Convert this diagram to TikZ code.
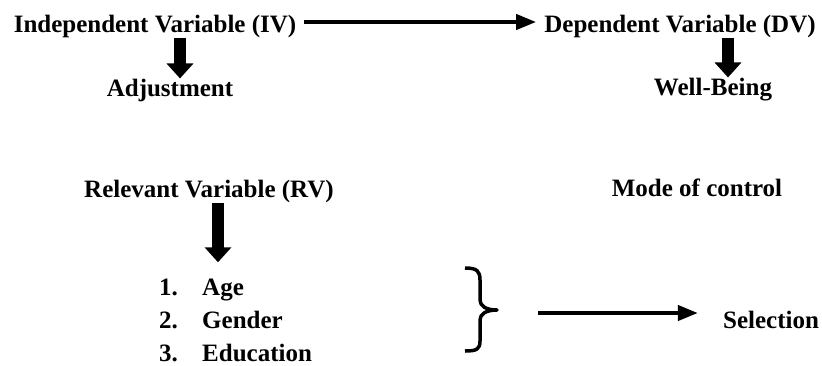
\documentclass[tikz,border=0pt]{standalone}
\usepackage{fontspec}
\setmainfont{Liberation Serif}
\usetikzlibrary{arrows.meta,positioning}
\tikzset{
  var/.style={font=\fontsize{25}{30}\selectfont\bfseries, inner sep=0pt, anchor=base},
  listitem/.style={var, anchor=base west},
  bigdown/.style={-{Triangle[length=15pt,width=26pt]}, line width=12pt},
  link/.style={-{Triangle[length=20pt,width=15pt]}, line width=4pt},
  curly/.style={line width=3.5pt, line join=round},
}

\begin{document}
\begin{tikzpicture}[x=1pt,y=-1pt]
  \useasboundingbox (0,0) rectangle (822,365);
  % variables
  \node[var] (iv) at (155,32) {Independent Variable (IV)};
  \node[var] (dv) at (680,32) {Dependent Variable (DV)};
  \node[var] (adj) at (170,96) {Adjustment};
  \node[var] (wb) at (713,95) {Well-Being};
  \node[var] (rv) at (209,197) {Relevant Variable (RV)};
  \node[var] (mode) at (697,196) {Mode of control};
  \node[listitem] (age) at (159,295) {\makebox[43pt][l]{1.}Age};
  \node[listitem] (gender) at (159,328) {\makebox[43pt][l]{2.}Gender};
  \node[listitem] (edu) at (159,361) {\makebox[43pt][l]{3.}Education};
  \node[var] (sel) at (771,328) {Selection};
  % arrows
  \draw[link, shorten <=8pt, shorten >=8pt] (iv.east |- 0,22) -- (dv.west |- 0,22);
  \draw[bigdown] (iv.south -| 180,0) -- (adj.north -| 180,0);
  \draw[bigdown] (dv.south -| 728,0) -- (wb.north -| 728,0);
  \draw[bigdown, shorten >=16pt] (rv.south -| 218,0) -- (age.north -| 218,0);
  % brace
  \draw[curly] (465,268) .. controls (477,268) and (480,271) .. (480,280) -- (480,300)
    .. controls (480,306) and (486,310) .. (497,310)
    .. controls (486,310) and (480,314) .. (480,320) -- (480,341)
    .. controls (480,349) and (477,351) .. (465,351);
  \coordinate (brtip) at (497,313);
  \draw[link, shorten <=41pt, shorten >=25pt] (brtip) -- (sel.west |- brtip);
\end{tikzpicture}
\end{document}
